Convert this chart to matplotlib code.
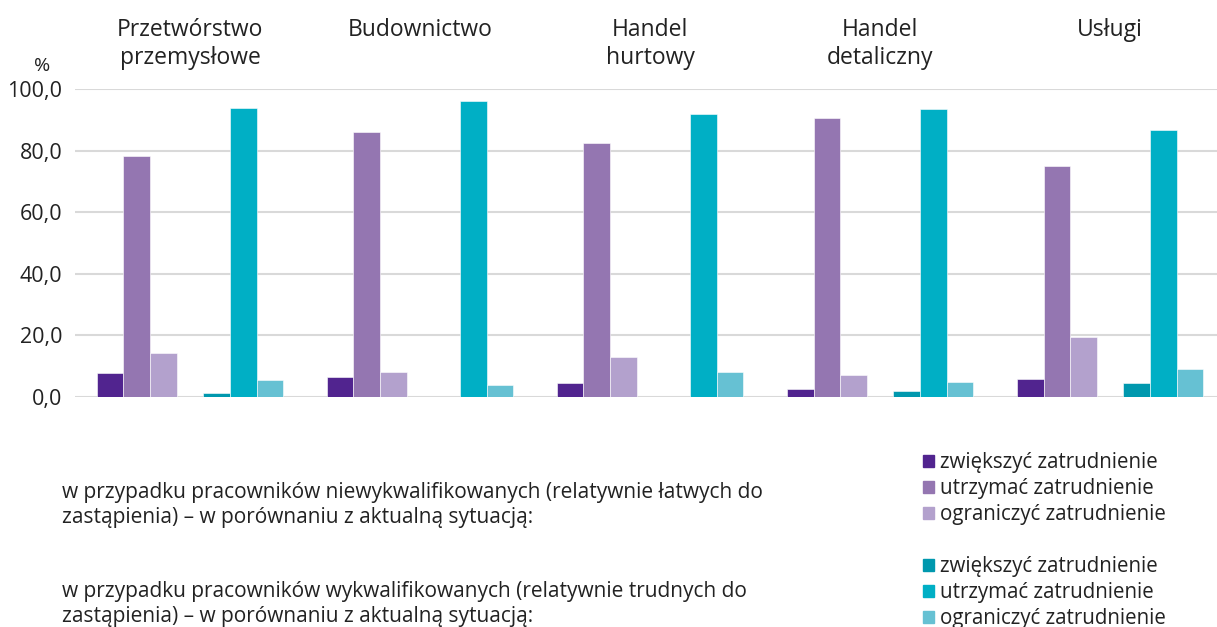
import numpy as np
import matplotlib
matplotlib.use('Agg')
import matplotlib.pyplot as plt
from matplotlib.ticker import FuncFormatter
from matplotlib.patches import Patch

plt.rcParams['font.family'] = ['Open Sans', 'DejaVu Sans']

categories = ['Przetwórstwo\nprzemysłowe', 'Budownictwo', 'Handel\nhurtowy', 'Handel\ndetaliczny', 'Usługi']
series_labels = ['zwiększyć zatrudnienie', 'utrzymać zatrudnienie', 'ograniczyć zatrudnienie']

# niewykwalifikowani
unskilled_increase = [7.8, 6.4, 4.5, 2.6, 5.8]
unskilled_keep = [78.2, 85.9, 82.6, 90.6, 75.0]
unskilled_reduce = [14.4, 8.2, 13.1, 7.3, 19.5]
# wykwalifikowani
skilled_increase = [1.3, 0.0, 0.0, 2.1, 4.5]
skilled_keep = [93.8, 96.2, 92.0, 93.4, 86.8]
skilled_reduce = [5.4, 4.0, 8.2, 4.9, 9.1]

purple_colors = ['#51248f', '#9476b1', '#b3a1cd']
teal_colors = ['#0098ae', '#00afc5', '#66c1d3']

note_unskilled = ('w przypadku pracowników niewykwalifikowanych (relatywnie łatwych do\n'
                  'zastąpienia) – w porównaniu z aktualną sytuacją:')
note_skilled = ('w przypadku pracowników wykwalifikowanych (relatywnie trudnych do\n'
                'zastąpienia) – w porównaniu z aktualną sytuacją:')

fig = plt.figure(figsize=(12.17, 6.27), dpi=100)
ax = fig.add_axes([75 / 1217, 1 - 397 / 627, 1 - 75 / 1217, (397 - 89) / 627])

x = np.arange(len(categories))
w = 0.1157
series = [unskilled_increase, unskilled_keep, unskilled_reduce,
          skilled_increase, skilled_keep, skilled_reduce]
colors = purple_colors + teal_colors
slots = [0, 1, 2, 4, 5, 6]
for vals, col, s in zip(series, colors, slots):
    ax.bar(x + (s - 3) * w, vals, width=w, color=col, edgecolor='white',
           linewidth=0.4, zorder=3)

ax.set_ylim(0, 100)
ax.set_xlim(-0.5, 4.465)
ax.set_yticks(np.arange(0, 101, 20))
ax.yaxis.set_major_formatter(FuncFormatter(lambda v, p: f'{v:.1f}'.replace('.', ',')))
ax.tick_params(axis='y', length=0, labelsize=15.5, colors='#222222', pad=9)
ax.set_xticks([])
ax.grid(axis='y', color='#d9d9d9', linewidth=1.5, zorder=0)
for sp in ax.spines.values():
    sp.set_visible(False)

for i, cat in enumerate(categories):
    fig.text((75 + (i + 0.5) * 230) / 1217, 1 - 18 / 627, cat, ha='center',
             va='top', fontsize=16.5, color='#222222', linespacing=1.22)

fig.text(42 / 1217, 1 - 66 / 627, '%', ha='center', va='center', fontsize=14, color='#222222')

handles = [Patch(color=c) for c in purple_colors] + [Patch(color='none')] + \
          [Patch(color=c) for c in teal_colors]
labels = series_labels + [''] + series_labels
fig.legend(handles, labels, loc='upper left', bbox_to_anchor=(923 / 1217, 1 - 452 / 627),
           frameon=False, fontsize=14.8, handlelength=0.55, handleheight=0.55,
           handletextpad=0.3, labelspacing=0.245, borderaxespad=0, borderpad=0,
           labelcolor='#222222')

fig.text(62 / 1217, 1 - 505 / 627, note_unskilled, ha='left', va='center',
         fontsize=15, color='#222222', linespacing=1.2)
fig.text(62 / 1217, 1 - 604 / 627, note_skilled, ha='left', va='center',
         fontsize=15, color='#222222', linespacing=1.2)

fig.savefig('out.png', dpi=100)
